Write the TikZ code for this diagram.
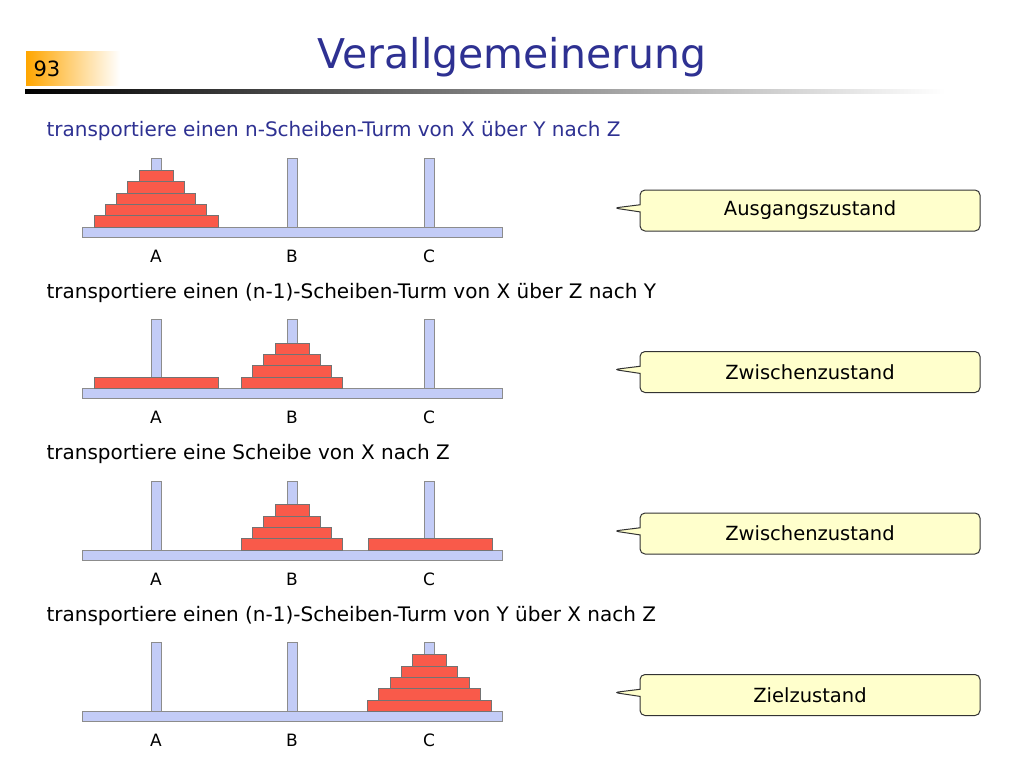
\documentclass[tikz,border=0pt]{standalone}
\usepackage{fontspec}
\setmainfont{DejaVu Sans}
\usetikzlibrary{positioning,shapes.callouts}
\definecolor{titleblue}{HTML}{2E3192}
\definecolor{pegblue}{HTML}{C3CCF7}
\definecolor{diskred}{HTML}{F95A4A}
\definecolor{noteyellow}{HTML}{FFFFCC}
\tikzset{
  peg/.style={fill=pegblue, draw=black!45, line width=0.8pt},
  disk/.style={fill=diskred, draw=black!55, line width=0.6pt},
  note/.style={rectangle callout, rounded corners=5pt, fill=noteyellow, draw=black!80,
    line width=1pt, minimum width=340pt, minimum height=41pt,
    font=\fontsize{19.5}{20}\selectfont},
  rowtext/.style={anchor=west, font=\fontsize{20}{22}\selectfont},
  peglabel/.style={font=\fontsize{17}{17}\selectfont}
}
% tower: centre x, base top y, number of disks
\newcommand{\tower}[3]{
  \foreach \k in {1,...,#3}{
    \pgfmathsetmacro{\hw}{62-11.25*(\k-1)}
    \draw[disk] (#1-\hw,{#2-11.4*(\k-1)}) rectangle (#1+\hw,{#2-11.4*\k});
  }
}
\begin{document}
\begin{tikzpicture}[x=1pt,y=-1pt]
  \useasboundingbox (0,0) rectangle (1024,768);
  % Header
  \shade[left color=orange!70!yellow, right color=white] (26,52) rectangle (120,85);
  \node[font=\fontsize{21}{21}\selectfont] (num) at (47,68.5) {93};
  \shade[left color=black, right color=white] (25,89.5) rectangle (945,93);
  \node[text=titleblue, font=\fontsize{41}{41}\selectfont] (title) at (512,57) {Verallgemeinerung};
  % Rows
  \foreach \r/\txt/\col/\note in {
    0/{transportiere einen n-Scheiben-Turm von X über Y nach Z}/titleblue/Ausgangszustand,
    1/{transportiere einen (n-1)-Scheiben-Turm von X über Z nach Y}/black/Zwischenzustand,
    2/{transportiere eine Scheibe von X nach Z}/black/Zwischenzustand,
    3/{transportiere einen (n-1)-Scheiben-Turm von Y über X nach Z}/black/Zielzustand}{
    \pgfmathsetmacro{\dy}{161.5*\r}
    \node[rowtext, text=\col] (head\r) at (43,131+\dy) {\txt};
    \foreach \px/\lab in {156/A,292/B,429/C}{
      \draw[peg] (\px-5,158+\dy) rectangle (\px+5,227+\dy);
      \node[peglabel] (lab\lab\r) at (\px,256+\dy) {\lab};
    }
    \draw[peg] (82,227+\dy) rectangle (502,237+\dy);
    \node[note, callout absolute pointer={(614,208+\dy)}] (note\r) at (810,210.5+\dy) {\note};
  }
  % Disks
  \tower{156}{227}{5}
  \draw[disk] (94,377.4) rectangle (218,388.5);
  \begin{scope}[yshift=-161.5pt]
    \foreach \k in {2,...,5}{
      \pgfmathsetmacro{\hw}{62-11.25*(\k-1)}
      \draw[disk] (292-\hw,{227-11.4*(\k-2)}) rectangle (292+\hw,{227-11.4*(\k-1)});
    }
  \end{scope}
  \begin{scope}[yshift=-323pt]
    \foreach \k in {2,...,5}{
      \pgfmathsetmacro{\hw}{62-11.25*(\k-1)}
      \draw[disk] (292-\hw,{227-11.4*(\k-2)}) rectangle (292+\hw,{227-11.4*(\k-1)});
    }
    \draw[disk] (368,215.6) rectangle (492,227);
  \end{scope}
  \tower{429.5}{711.5}{5}
\end{tikzpicture}
\end{document}
